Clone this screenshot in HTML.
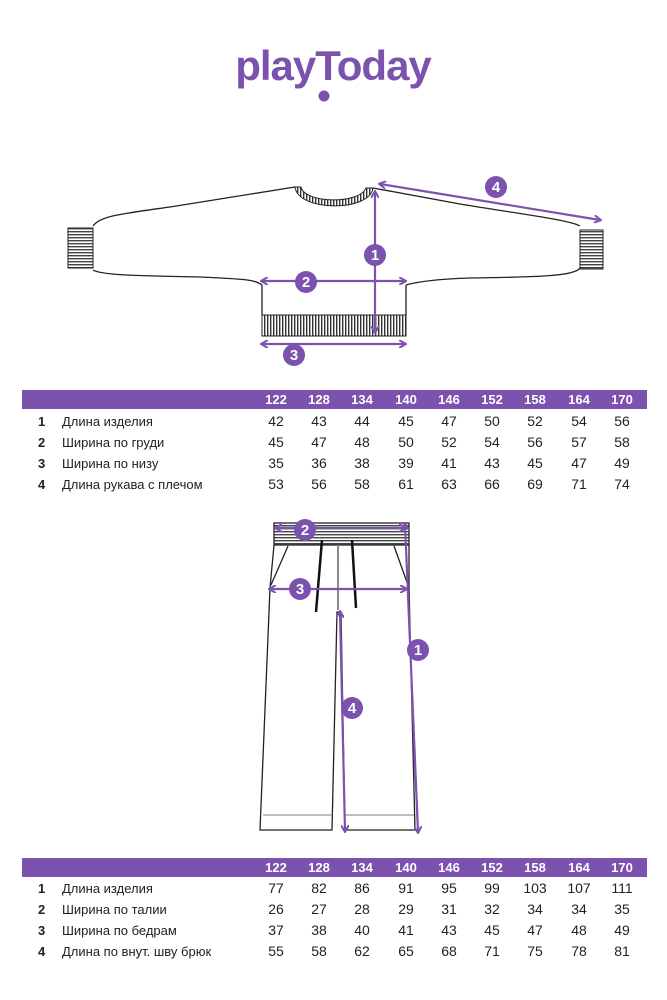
<!DOCTYPE html>
<html><head><meta charset="utf-8"><style>
body{margin:0;background:#fff;}
svg{display:block}
text{font-family:"Liberation Sans",sans-serif;}
</style></head><body>
<svg width="667" height="1000" viewBox="0 0 667 1000" xmlns="http://www.w3.org/2000/svg">
<defs>
<pattern id="rib" width="3" height="10" patternUnits="userSpaceOnUse"><rect width="3" height="10" fill="#fff"/><rect width="1.4" height="10" fill="#333"/></pattern>
<pattern id="ribh" width="10" height="3" patternUnits="userSpaceOnUse"><rect width="10" height="3" fill="#fff"/><rect width="10" height="1.4" fill="#444"/></pattern>
<marker id="ar" markerWidth="8" markerHeight="8" refX="6" refY="4" orient="auto-start-reverse" markerUnits="userSpaceOnUse"><path d="M0,0 L7,4 L0,8" fill="none" stroke="#7b52ae" stroke-width="2"/></marker>
</defs>
<text x="333" y="80" text-anchor="middle" font-size="42" font-weight="bold" fill="#7b52ae" letter-spacing="-1">playToday</text>
<circle cx="324" cy="96" r="5.5" fill="#7b52ae"/>

<g fill="none" stroke="#222" stroke-width="1.3">
<path d="M93,226 C100,216 120,214 170,207 L295,187 M373,188 L460,204 C520,214 570,220 580,226 M93,270 C100,275 140,276 200,277 C240,279 255,279 262,285 M580,268 C575,276 540,277 470,278 C440,279 420,281 406,285"/>
<path d="M262,285 L262,315 M406,285 L406,315"/>
</g>
<rect x="68" y="228" width="25" height="40" fill="url(#ribh)" stroke="#222"/>
<rect x="580" y="230" width="23" height="39" fill="url(#ribh)" stroke="#222"/>
<rect x="262" y="315" width="144" height="21" fill="url(#rib)" stroke="#222"/>
<path d="M295,187 C298,212 370,212 373,188 L366,188 C360,204 305,204 301,187 Z" fill="url(#rib)" stroke="#222"/>
<g stroke="#7b52ae" stroke-width="2.2" fill="none">
<line x1="375" y1="192" x2="375" y2="332" marker-start="url(#ar)" marker-end="url(#ar)"/>
<line x1="262" y1="281" x2="405" y2="281" marker-start="url(#ar)" marker-end="url(#ar)"/>
<line x1="262" y1="344" x2="405" y2="344" marker-start="url(#ar)" marker-end="url(#ar)"/>
<line x1="380" y1="184" x2="600" y2="220" marker-start="url(#ar)" marker-end="url(#ar)"/>
</g>
<g fill="#7b52ae"><circle cx="375" cy="255" r="11"/><circle cx="306" cy="282" r="11"/><circle cx="294" cy="355" r="11"/><circle cx="496" cy="187" r="11"/></g>
<g fill="#fff" font-size="15" font-weight="bold" text-anchor="middle"><text x="375" y="260">1</text><text x="306" y="287">2</text><text x="294" y="360">3</text><text x="496" y="192">4</text></g>

<rect x="22" y="390" width="625" height="19" fill="#7b52ae"/>
<g font-size="13" text-anchor="middle" fill="#fff" font-weight="bold">
<text x="276" y="404">122</text><text x="319" y="404">128</text><text x="362" y="404">134</text><text x="406" y="404">140</text><text x="449" y="404">146</text><text x="492" y="404">152</text><text x="535" y="404">158</text><text x="579" y="404">164</text><text x="622" y="404">170</text></g>
<g font-size="13" fill="#222">
<g font-weight="bold"><text x="38" y="426">1</text><text x="38" y="447">2</text><text x="38" y="468">3</text><text x="38" y="489">4</text></g>
<text x="62" y="426">Длина изделия</text><text x="62" y="447">Ширина по груди</text><text x="62" y="468">Ширина по низу</text><text x="62" y="489">Длина рукава с плечом</text>
<g text-anchor="middle" font-size="14">
<text x="276" y="426">42</text><text x="319" y="426">43</text><text x="362" y="426">44</text><text x="406" y="426">45</text><text x="449" y="426">47</text><text x="492" y="426">50</text><text x="535" y="426">52</text><text x="579" y="426">54</text><text x="622" y="426">56</text>
<text x="276" y="447">45</text><text x="319" y="447">47</text><text x="362" y="447">48</text><text x="406" y="447">50</text><text x="449" y="447">52</text><text x="492" y="447">54</text><text x="535" y="447">56</text><text x="579" y="447">57</text><text x="622" y="447">58</text>
<text x="276" y="468">35</text><text x="319" y="468">36</text><text x="362" y="468">38</text><text x="406" y="468">39</text><text x="449" y="468">41</text><text x="492" y="468">43</text><text x="535" y="468">45</text><text x="579" y="468">47</text><text x="622" y="468">49</text>
<text x="276" y="489">53</text><text x="319" y="489">56</text><text x="362" y="489">58</text><text x="406" y="489">61</text><text x="449" y="489">63</text><text x="492" y="489">66</text><text x="535" y="489">69</text><text x="579" y="489">71</text><text x="622" y="489">74</text>
</g></g>

<g fill="none" stroke="#222" stroke-width="1.3">
<rect x="274" y="523" width="135" height="22" fill="url(#ribh)"/>
<path d="M274,545 L270,588 L260,830 L332,830 L337,612 L341,612 L345,830 L415,830 L409,588 L409,545"/>
<path d="M263,815 L332,815 M345,815 L414,815" stroke="#999"/>
<path d="M288,546 L271,585 M394,546 L408,585"/>
</g>
<g stroke="#111" stroke-width="2.5"><line x1="322" y1="540" x2="316" y2="612"/><line x1="352" y1="540" x2="356" y2="608"/></g>
<line x1="338" y1="545" x2="338" y2="610" stroke="#888" stroke-width="2"/>
<g stroke="#7b52ae" stroke-width="2.2" fill="none">
<line x1="276" y1="528" x2="405" y2="528" marker-start="url(#ar)" marker-end="url(#ar)"/>
<line x1="270" y1="589" x2="406" y2="589" marker-start="url(#ar)" marker-end="url(#ar)"/>
<line x1="405" y1="524" x2="418" y2="832" marker-start="url(#ar)" marker-end="url(#ar)"/>
<line x1="340" y1="612" x2="345" y2="831" marker-start="url(#ar)" marker-end="url(#ar)"/>
</g>
<g fill="#7b52ae"><circle cx="305" cy="530" r="11"/><circle cx="300" cy="589" r="11"/><circle cx="418" cy="650" r="11"/><circle cx="352" cy="708" r="11"/></g>
<g fill="#fff" font-size="15" font-weight="bold" text-anchor="middle"><text x="305" y="535">2</text><text x="300" y="594">3</text><text x="418" y="655">1</text><text x="352" y="713">4</text></g>

<rect x="22" y="858" width="625" height="19" fill="#7b52ae"/>
<g font-size="13" text-anchor="middle" fill="#fff" font-weight="bold">
<text x="276" y="872">122</text><text x="319" y="872">128</text><text x="362" y="872">134</text><text x="406" y="872">140</text><text x="449" y="872">146</text><text x="492" y="872">152</text><text x="535" y="872">158</text><text x="579" y="872">164</text><text x="622" y="872">170</text></g>
<g font-size="13" fill="#222">
<g font-weight="bold"><text x="38" y="893">1</text><text x="38" y="914">2</text><text x="38" y="935">3</text><text x="38" y="956">4</text></g>
<text x="62" y="893">Длина изделия</text><text x="62" y="914">Ширина по талии</text><text x="62" y="935">Ширина по бедрам</text><text x="62" y="956">Длина по внут. шву брюк</text>
<g text-anchor="middle" font-size="14">
<text x="276" y="893">77</text><text x="319" y="893">82</text><text x="362" y="893">86</text><text x="406" y="893">91</text><text x="449" y="893">95</text><text x="492" y="893">99</text><text x="535" y="893">103</text><text x="579" y="893">107</text><text x="622" y="893">111</text>
<text x="276" y="914">26</text><text x="319" y="914">27</text><text x="362" y="914">28</text><text x="406" y="914">29</text><text x="449" y="914">31</text><text x="492" y="914">32</text><text x="535" y="914">34</text><text x="579" y="914">34</text><text x="622" y="914">35</text>
<text x="276" y="935">37</text><text x="319" y="935">38</text><text x="362" y="935">40</text><text x="406" y="935">41</text><text x="449" y="935">43</text><text x="492" y="935">45</text><text x="535" y="935">47</text><text x="579" y="935">48</text><text x="622" y="935">49</text>
<text x="276" y="956">55</text><text x="319" y="956">58</text><text x="362" y="956">62</text><text x="406" y="956">65</text><text x="449" y="956">68</text><text x="492" y="956">71</text><text x="535" y="956">75</text><text x="579" y="956">78</text><text x="622" y="956">81</text>
</g></g>
</svg>
</body></html>
